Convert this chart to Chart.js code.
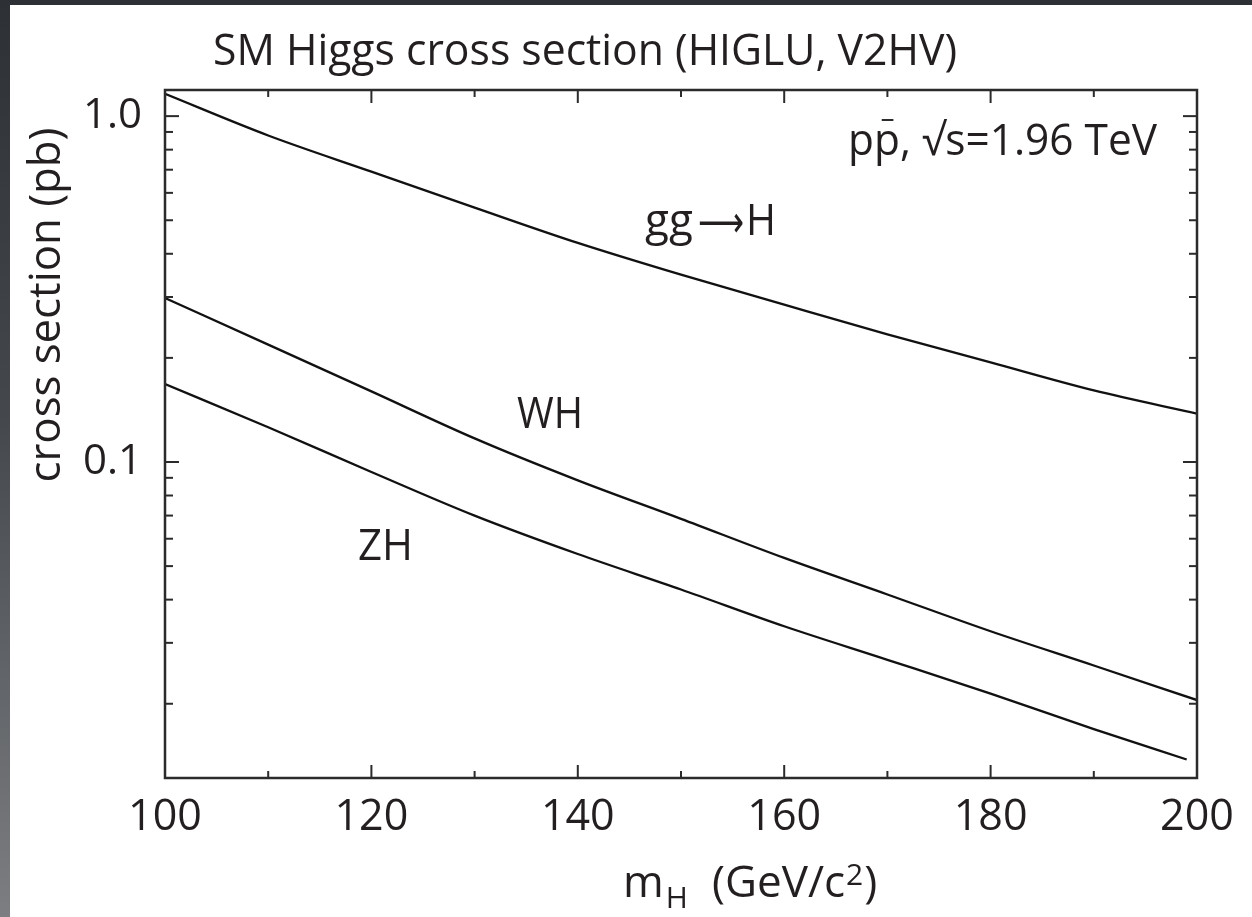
<!DOCTYPE html>
<html>
<head>
<meta charset="utf-8">
<script src="https://cdn.jsdelivr.net/npm/chart.js@4.4.1/dist/chart.umd.min.js"></script>
<style>
  html, body { margin: 0; padding: 0; }
  body {
    width: 1252px; height: 917px; overflow: hidden; position: relative;
    background: linear-gradient(to bottom, #2d3136 0%, #44484d 45%, #7c7e81 100%);
  }
  #panel { position: absolute; left: 10px; top: 5px; width: 1242px; height: 912px; background: #fff; }
</style>
</head>
<body>
<div id="panel"><canvas id="chart" width="1242" height="912"></canvas></div>
<script>
// Higgs mass points (GeV/c^2)
const massPoints = [100, 110, 120, 130, 140, 150, 160, 170, 180, 190, 200];
const massPointsZH = [100, 110, 120, 130, 140, 150, 160, 170, 180, 190, 199];

// cross sections in pb
const ggH = [1.16, 0.879, 0.691, 0.544, 0.430, 0.348, 0.285, 0.234, 0.194, 0.161, 0.138];
const WH  = [0.298, 0.2185, 0.160, 0.117, 0.0885, 0.0685, 0.0528, 0.0414, 0.0324, 0.0258, 0.0205];
const ZH  = [0.168, 0.126, 0.0936, 0.0700, 0.0542, 0.0428, 0.0335, 0.0268, 0.0214, 0.0169, 0.0138];

// axis ticks
const xMajorTicks = [100, 120, 140, 160, 180, 200];
const xMinorTicks = [110, 130, 150, 170, 190];
const yMajorTicks = [0.1, 1.0];
const yTickLabels = ['0.1', '1.0'];
const yMinorTicks = [0.02, 0.03, 0.04, 0.05, 0.06, 0.07, 0.08, 0.09,
                     0.2, 0.3, 0.4, 0.5, 0.6, 0.7, 0.8, 0.9];

const textColor = '#231f20';
const font = size => size + 'px "Open Sans"';

function toPoints(xs, ys) {
    return xs.map((m, i) => ({ x: m, y: ys[i] }));
}

// frame, inward ticks on all four sides, and the labels of the figure
const decorations = {
    id: 'decorations',
    afterDraw(chart) {
        const { ctx, chartArea: a, scales: { x, y } } = chart;
        ctx.save();
        ctx.strokeStyle = '#2b2b2b';
        ctx.lineWidth = 2;
        const line = (x1, y1, x2, y2) => {
            ctx.beginPath(); ctx.moveTo(x1, y1); ctx.lineTo(x2, y2); ctx.stroke();
        };
        const xTick = (v, len) => {
            const px = x.getPixelForValue(v);
            line(px, a.bottom, px, a.bottom - len);
            line(px, a.top, px, a.top + len);
        };
        const yTick = (v, len) => {
            const py = y.getPixelForValue(v);
            line(a.left, py, a.left + len, py);
            line(a.right, py, a.right - len, py);
        };
        xMajorTicks.forEach(v => xTick(v, 13));
        xMinorTicks.forEach(v => xTick(v, 7));
        yMajorTicks.forEach(v => yTick(v, 14));
        yMinorTicks.forEach(v => yTick(v, 8));
        ctx.lineWidth = 2.5;
        ctx.strokeRect(a.left, a.top, a.width, a.height);

        ctx.fillStyle = textColor;
        ctx.textBaseline = 'alphabetic';
        ctx.textAlign = 'left';

        // title
        ctx.font = font(44);
        ctx.fillText('SM Higgs cross section (HIGLU, V2HV)', 203, 60, 744);

        // curve labels
        ctx.fillText('gg', 635, 230, 50);
        ctx.font = '44px "DejaVu Sans"';
        ctx.fillText('\u27F6', 688, 232, 46);
        ctx.font = font(44);
        ctx.fillText('H', 736, 230, 30);
        ctx.fillText('WH', 507, 423, 66);
        ctx.fillText('ZH', 348, 555, 55);

        // p pbar, sqrt(s) = 1.96 TeV
        const beam = 'pp, \u221As=1.96 TeV';
        const w = ctx.measureText(beam).width;
        const s = Math.min(1, 309 / w);
        const pw = ctx.measureText('p').width;
        ctx.save();
        ctx.translate(838, 150);
        ctx.scale(s, 1);
        ctx.fillText(beam, 0, 0);
        ctx.lineWidth = 2;
        line(pw + pw * 0.3, -35, pw + pw * 0.75, -35);
        ctx.restore();

        // y axis title
        ctx.save();
        ctx.translate(50, 300);
        ctx.rotate(-Math.PI / 2);
        ctx.textAlign = 'center';
        ctx.fillText('cross section (pb)', 0, 0, 355);
        ctx.restore();

        // x axis title: m_H (GeV/c^2)
        let cx = 613;
        ctx.font = font(44);
        ctx.fillText('m', cx, 892);
        cx += ctx.measureText('m').width + 2;
        ctx.font = font(30);
        ctx.fillText('H', cx, 903);
        cx = 702;
        ctx.font = font(44);
        ctx.fillText('(GeV/c', cx, 892);
        cx += ctx.measureText('(GeV/c').width + 1;
        ctx.font = font(30);
        ctx.fillText('2', cx, 880);
        cx += ctx.measureText('2').width + 1;
        ctx.font = font(44);
        ctx.fillText(')', cx, 892);

        ctx.restore();
    }
};

const lineStyle = {
    borderColor: '#111',
    borderWidth: 2.3,
    pointRadius: 0,
    fill: false,
    cubicInterpolationMode: 'monotone'
};

new Chart(document.getElementById('chart'), {
    type: 'line',
    data: {
        datasets: [
            { label: 'gg\u2192H', data: toPoints(massPoints, ggH), ...lineStyle },
            { label: 'WH', data: toPoints(massPoints, WH), ...lineStyle },
            { label: 'ZH', data: toPoints(massPointsZH, ZH), ...lineStyle }
        ]
    },
    options: {
        responsive: false,
        animation: false,
        layout: { padding: { top: 85, right: 55, left: 0, bottom: 0 } },
        plugins: {
            legend: { display: false },
            tooltip: { enabled: false },
            title: { display: false }
        },
        scales: {
            x: {
                type: 'linear',
                min: 100,
                max: 200,
                afterBuildTicks: s => { s.ticks = xMajorTicks.map(v => ({ value: v })); },
                afterFit: s => { s.height = 139; },
                ticks: {
                    font: { family: 'Open Sans', size: 43 },
                    color: textColor,
                    padding: 6,
                    maxRotation: 0,
                    autoSkip: false,
                    callback: v => String(v)
                },
                grid: { display: false },
                border: { display: false }
            },
            y: {
                type: 'logarithmic',
                min: 0.0122,
                max: 1.19,
                afterBuildTicks: s => { s.ticks = yMajorTicks.map(v => ({ value: v })); },
                afterFit: s => { s.width = 155; },
                ticks: {
                    font: { family: 'Open Sans', size: 42 },
                    color: textColor,
                    padding: 15,
                    autoSkip: false,
                    callback: v => yTickLabels[yMajorTicks.indexOf(v)] ?? ''
                },
                grid: { display: false },
                border: { display: false }
            }
        }
    },
    plugins: [decorations]
});
</script>
</body>
</html>
